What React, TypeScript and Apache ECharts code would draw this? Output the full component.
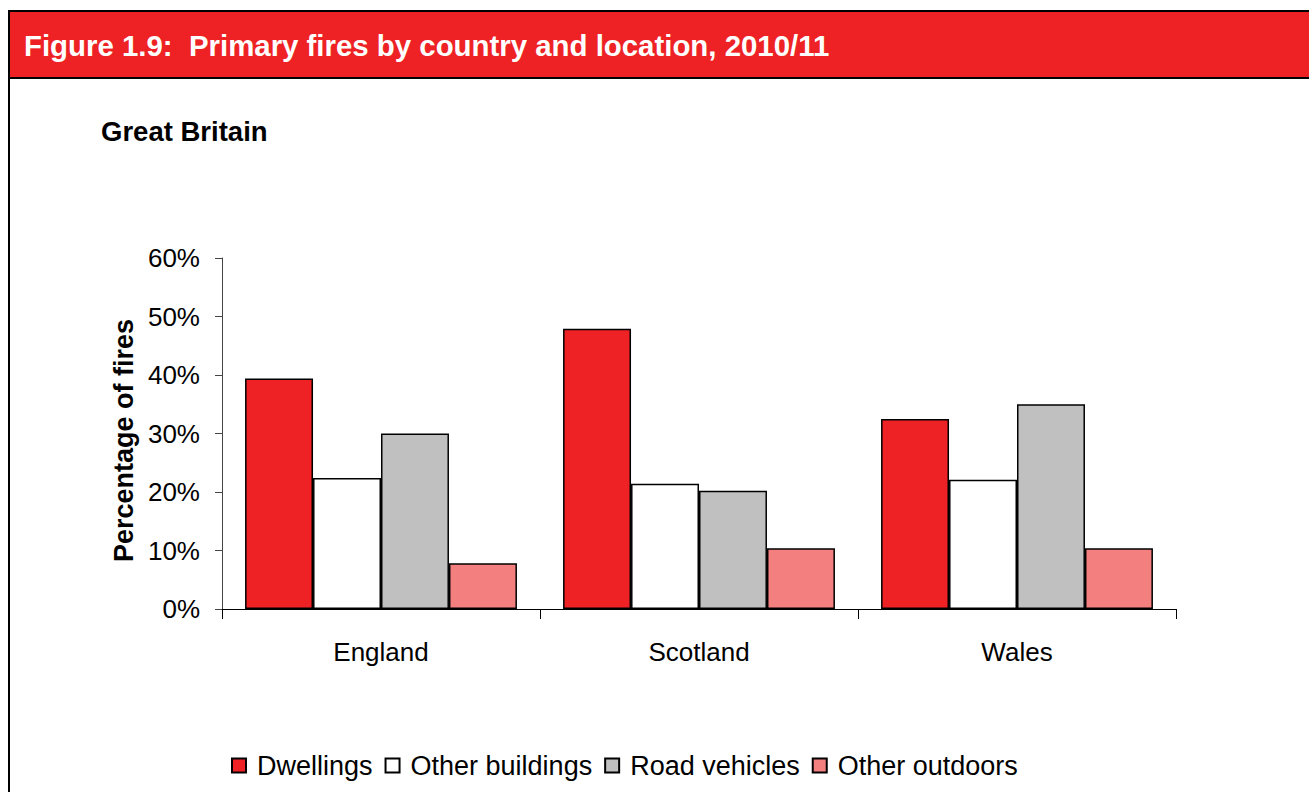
import React, { useEffect, useRef } from "react";
import * as echarts from "echarts";

const categories = ["England", "Scotland", "Wales"];
const dwellings = [39.4, 47.9, 32.5];
const otherBuildings = [22.4, 21.4, 22.1];
const roadVehicles = [30.0, 20.2, 35.0];
const otherOutdoors = [7.8, 10.4, 10.4];
const seriesNames = ["Dwellings", "Other buildings", "Road vehicles", "Other outdoors"];
const seriesColors = ["#EE2224", "#FFFFFF", "#C0C0C0", "#F37F7F"];
const titleText = "Figure 1.9:  Primary fires by country and location, 2010/11";
const subtitleText = "Great Britain";
const yAxisName = "Percentage of fires";

const FONT = "'Liberation Sans', Arial, sans-serif";

export default function App() {
  const ref = useRef<HTMLDivElement>(null);
  useEffect(() => {
    const chart = echarts.init(ref.current!, null, { renderer: "svg" });
    const data = [dwellings, otherBuildings, roadVehicles, otherOutdoors];
    chart.setOption({
      animation: false,
      backgroundColor: "#FFFFFF",
      textStyle: { fontFamily: FONT },
      graphic: [
        { type: "rect", left: 8, top: 10, shape: { width: 1400, height: 69 }, style: { fill: "#000" }, z: 0 },
        { type: "rect", left: 10, top: 12, shape: { width: 1400, height: 65 }, style: { fill: "#EE2224" }, z: 1 },
        { type: "rect", left: 8, top: 10, shape: { width: 2, height: 800 }, style: { fill: "#000" }, z: 2 },
        {
          type: "text", x: 24, y: 45, z: 3,
          style: { text: titleText, fill: "#FFFFFF", font: `bold 29.4px ${FONT}`, textVerticalAlign: "middle" },
        },
        {
          type: "text", x: 101, y: 131, z: 3,
          style: { text: subtitleText, fill: "#000", font: `bold 27.5px ${FONT}`, textVerticalAlign: "middle" },
        },
      ],
      legend: {
        left: 231,
        top: 752,
        padding: 0,
        itemWidth: 14,
        itemHeight: 14,
        itemGap: 12,
        icon: "rect",
        textStyle: { fontSize: 27, color: "#000", fontFamily: FONT, padding: [0, 0, 0, 6] },
        data: seriesNames,
      },
      grid: { left: 222, right: 133, top: 258, bottom: 183, containLabel: false },
      xAxis: {
        type: "category",
        data: categories,
        axisLine: { lineStyle: { color: "#000", width: 1 } },
        axisTick: { show: true, length: 10, lineStyle: { color: "#000" } },
        axisLabel: { fontSize: 26, color: "#000", margin: 30, fontFamily: FONT },
      },
      yAxis: {
        type: "value",
        min: 0,
        max: 60,
        interval: 10,
        name: yAxisName,
        nameLocation: "middle",
        nameRotate: 90,
        nameGap: 83,
        nameTextStyle: { fontSize: 27, fontWeight: "bold", color: "#000", fontFamily: FONT, padding: [0, 14, 0, 0] },
        axisLine: { show: true, lineStyle: { color: "#444", width: 1 } },
        axisTick: { show: true, length: 7, lineStyle: { color: "#444" } },
        splitLine: { show: false },
        axisLabel: { formatter: "{value}%", fontSize: 26, color: "#000", margin: 22, fontFamily: FONT },
      },
      series: seriesNames.map((name, i) => ({
        name,
        type: "bar",
        data: data[i],
        barGap: "0%",
        barCategoryGap: "14.5%",
        itemStyle: { color: seriesColors[i], borderColor: "#000", borderWidth: 1.5 },
      })),
    });
    return () => chart.dispose();
  }, []);
  return (
    <div
      ref={ref}
      style={{ position: "fixed", left: 0, top: 0, width: 1309, height: 792 }}
    />
  );
}
